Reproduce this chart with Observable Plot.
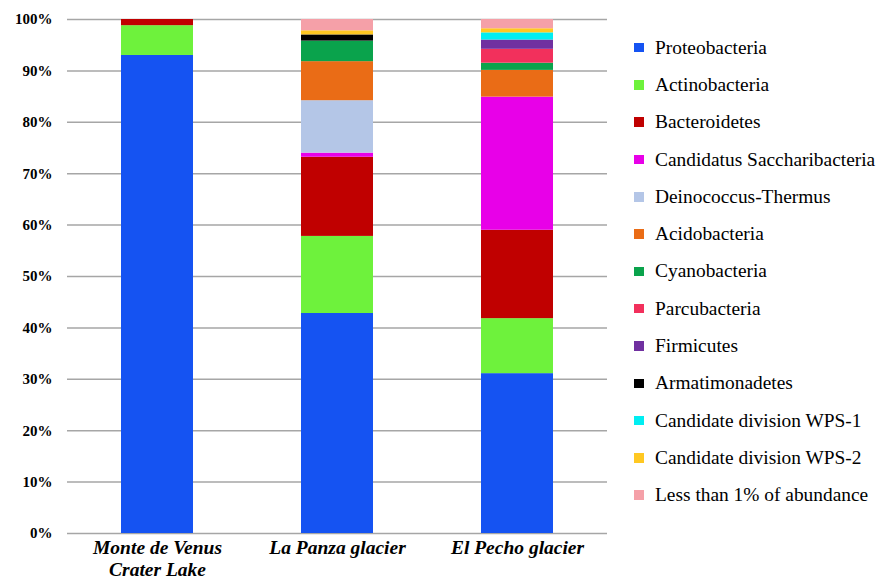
<!DOCTYPE html>
<html><head><meta charset="utf-8">
<script src="https://cdn.jsdelivr.net/npm/d3@7"></script>
<script src="https://cdn.jsdelivr.net/npm/@observablehq/plot@0.6"></script>
<style>
body{margin:0;background:#fff;}
#wrap{position:relative;width:876px;height:584px;overflow:hidden;}
#legend{position:absolute;left:634px;top:29px;color:#000;}
.row{height:37.3px;display:flex;align-items:center;white-space:nowrap;font-family:'Liberation Serif','Times New Roman',serif;font-size:19.4px;}
.sw{width:9.5px;height:9.5px;margin-right:11.5px;flex:none;}
</style></head><body><div id="wrap"><div id="legend"></div></div>
<script>
const sites = ["Monte de Venus\nCrater Lake", "La Panza glacier", "El Pecho glacier"];
const phyla = ["Proteobacteria","Actinobacteria","Bacteroidetes","Candidatus Saccharibacteria","Deinococcus-Thermus","Acidobacteria","Cyanobacteria","Parcubacteria","Firmicutes","Armatimonadetes","Candidate division WPS-1","Candidate division WPS-2","Less than 1% of abundance"];
const colors = ["#1553f2","#6ef23c","#c00000","#e800e8","#b4c6e7","#ea6c16","#0aa34c","#f2305c","#7030a0","#000000","#00eef2","#ffc822","#f5a0a8"];
const monteDeVenus = [93.0, 5.8, 1.2, 0, 0, 0, 0, 0, 0, 0, 0, 0, 0];
const laPanza      = [42.8, 15.0, 15.4, 0.8, 10.2, 7.6, 4.0, 0, 0, 1.2, 0, 0.8, 2.2];
const elPecho      = [31.1, 10.7, 17.2, 25.9, 0, 5.2, 1.4, 2.7, 1.8, 0, 1.4, 0.8, 1.8];
const yTicks = [0,10,20,30,40,50,60,70,80,90,100];

const series = [monteDeVenus, laPanza, elPecho];
const data = [];
sites.forEach((s, i) => phyla.forEach((p, j) => data.push({site: s, phylum: p, value: series[i][j]})));

const chart = Plot.plot({
  width: 876, height: 584,
  marginLeft: 67, marginRight: 269, marginTop: 19, marginBottom: 51,
  style: {fontFamily: "Liberation Serif, serif", color: "#000", background: "#fff"},
  x: {domain: sites, paddingInner: 0.6, paddingOuter: 0.3, label: null},
  y: {domain: [0, 100], label: null},
  color: {domain: phyla, range: colors},
  marks: [
    Plot.ruleY(yTicks, {stroke: "#a6a6a6", strokeWidth: 1.5}),
    Plot.barY(data, {x: "site", y: "value", fill: "phylum", order: phyla}),
    Plot.axisY({ticks: yTicks, tickFormat: d => d + "%", tickSize: 0, tickPadding: 15, fontSize: 15, fontWeight: "bold", label: null}),
    Plot.axisX({tickSize: 0, tickPadding: 5, fontSize: 19.5, fontWeight: "bold", fontStyle: "italic", lineHeight: 1.12, label: null})
  ]
});
document.getElementById("wrap").prepend(chart);

const legend = document.getElementById("legend");
phyla.forEach((p, i) => {
  const row = document.createElement("div");
  row.className = "row";
  row.innerHTML = `<span class="sw" style="background:${colors[i]}"></span><span>${p}</span>`;
  legend.appendChild(row);
});
</script></body></html>
